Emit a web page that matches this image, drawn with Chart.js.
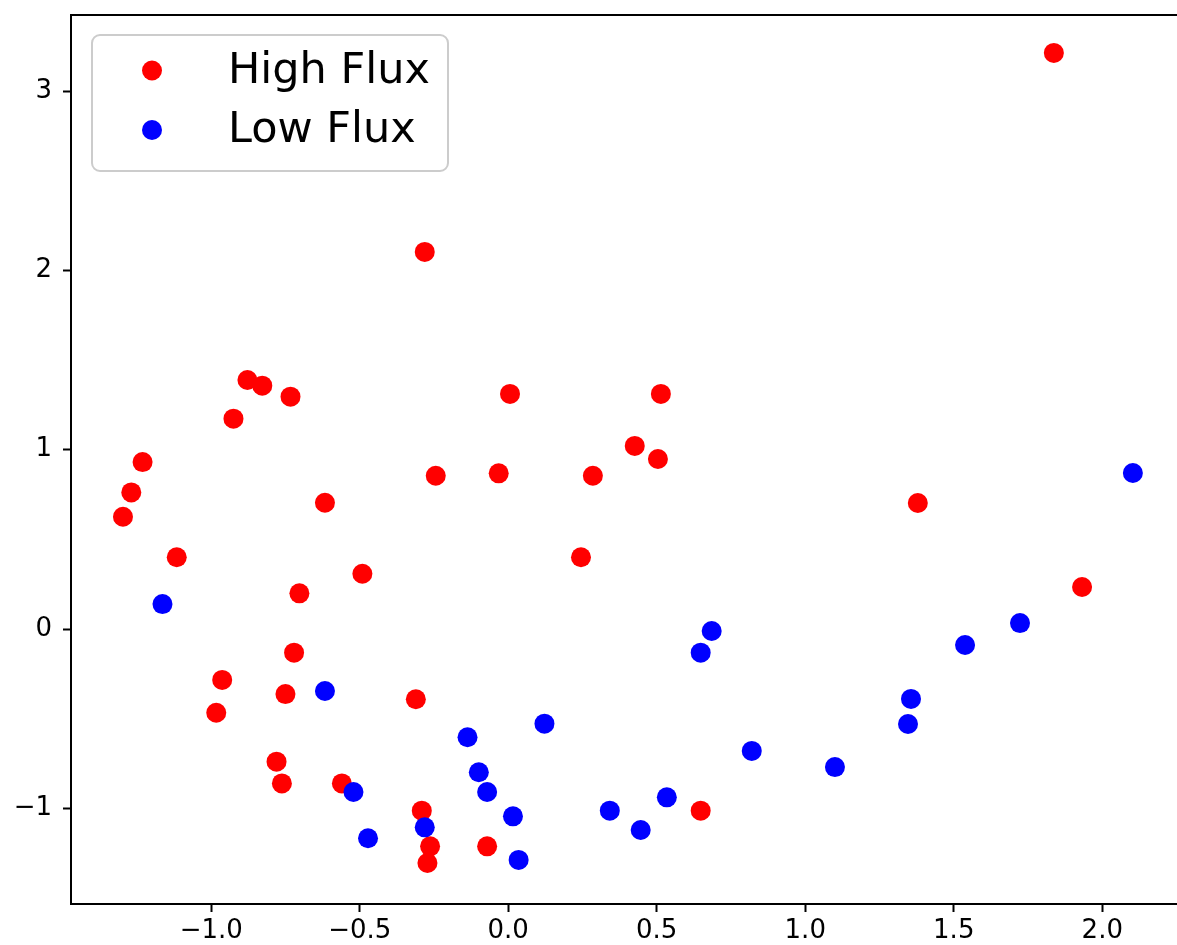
<!DOCTYPE html>
<html>
<head>
<meta charset="utf-8">
<title>High Flux vs Low Flux</title>
<script src="https://cdn.jsdelivr.net/npm/chart.js@4.4.1/dist/chart.umd.min.js"></script>
<style>
  html, body { margin: 0; padding: 0; background: #ffffff; overflow: hidden; }
  #wrap { width: 1177px; height: 945px; }
</style>
</head>
<body>
<div id="wrap"><canvas id="chart" width="1177" height="945"></canvas></div>
<script>
// Series values
const highFluxX = [1.837, -0.281, -0.878, -0.828, -0.733, -0.925, 0.006, 0.514, 0.426, 0.504,
                   -1.231, -1.269, -1.297, -0.244, -0.032, 0.285, -0.617, 1.379, -1.116, 0.245,
                   -0.491, -0.703, 1.932, -0.721, -0.963, -0.750, -0.311, -0.983, -0.780, -0.762,
                   -0.560, -0.291, 0.648, -0.263, -0.071, -0.272];
const highFluxY = [3.213, 2.103, 1.389, 1.357, 1.296, 1.173, 1.311, 1.311, 1.021, 0.948,
                   0.931, 0.762, 0.626, 0.855, 0.868, 0.855, 0.704, 0.703, 0.400, 0.400,
                   0.308, 0.199, 0.234, -0.132, -0.284, -0.363, -0.392, -0.467, -0.740, -0.861,
                   -0.861, -1.013, -1.013, -1.212, -1.212, -1.305];

const lowFluxX = [2.103, -1.164, 0.685, 1.723, 1.538, 0.648, -0.617, 1.356, 0.122, 1.346,
                  -0.137, 0.820, -0.099, 1.100, -0.521, -0.071, 0.534, 0.342, 0.016, -0.281,
                  0.446, -0.472, 0.035];
const lowFluxY = [0.870, 0.139, -0.011, 0.033, -0.089, -0.132, -0.346, -0.390, -0.528, -0.530,
                  -0.604, -0.680, -0.799, -0.770, -0.909, -0.909, -0.939, -1.013, -1.045, -1.106,
                  -1.121, -1.167, -1.288];

// Tick values and labels
const xTickValues = [-1.0, -0.5, 0.0, 0.5, 1.0, 1.5, 2.0];
const xTickLabels = ['\u22121.0', '\u22120.5', '0.0', '0.5', '1.0', '1.5', '2.0'];
const yTickValues = [-1, 0, 1, 2, 3];
const yTickLabels = ['\u22121', '0', '1', '2', '3'];

// Series names
const seriesNames = ['High Flux', 'Low Flux'];

const toPoints = (xs, ys) => xs.map((x, i) => ({ x: x, y: ys[i] }));

const FONT = "'DejaVu Sans', 'Liberation Sans', sans-serif";

// Frame (top spine) and boxed legend in the upper-left corner
const framePlugin = {
  id: 'frame',
  afterDraw(chart) {
    const { ctx, chartArea } = chart;
    ctx.save();
    ctx.strokeStyle = '#000000';
    ctx.lineWidth = 2;
    ctx.beginPath();
    ctx.moveTo(chartArea.left - 1, chartArea.top);
    ctx.lineTo(chartArea.right + 2, chartArea.top);
    ctx.stroke();

    // legend box
    const bx = chartArea.left + 21, by = chartArea.top + 20;
    const bw = 356, bh = 136, r = 8;
    ctx.beginPath();
    ctx.moveTo(bx + r, by);
    ctx.lineTo(bx + bw - r, by);
    ctx.arcTo(bx + bw, by, bx + bw, by + r, r);
    ctx.lineTo(bx + bw, by + bh - r);
    ctx.arcTo(bx + bw, by + bh, bx + bw - r, by + bh, r);
    ctx.lineTo(bx + r, by + bh);
    ctx.arcTo(bx, by + bh, bx, by + bh - r, r);
    ctx.lineTo(bx, by + r);
    ctx.arcTo(bx, by, bx + r, by, r);
    ctx.closePath();
    ctx.fillStyle = 'rgba(255,255,255,0.8)';
    ctx.fill();
    ctx.strokeStyle = '#cccccc';
    ctx.lineWidth = 2;
    ctx.stroke();

    const rowY = [by + 35.5, by + 95];
    chart.data.datasets.forEach((ds, i) => {
      ctx.beginPath();
      ctx.arc(bx + 60, rowY[i], 10, 0, Math.PI * 2);
      ctx.fillStyle = ds.backgroundColor;
      ctx.fill();
      ctx.fillStyle = '#000000';
      ctx.font = '43px ' + FONT;
      ctx.textAlign = 'left';
      ctx.textBaseline = 'middle';
      ctx.fillText(ds.label, bx + 136, rowY[i] + 1);
    });
    ctx.restore();
  }
};

const tickFont = { family: FONT, size: 26 };

new Chart(document.getElementById('chart'), {
  type: 'scatter',
  data: {
    datasets: [
      {
        label: seriesNames[0],
        data: toPoints(highFluxX, highFluxY),
        backgroundColor: '#ff0000',
        borderWidth: 0,
        pointRadius: 10,
        order: 2
      },
      {
        label: seriesNames[1],
        data: toPoints(lowFluxX, lowFluxY),
        backgroundColor: '#0000ff',
        borderWidth: 0,
        pointRadius: 10,
        order: 1
      }
    ]
  },
  options: {
    responsive: false,
    devicePixelRatio: 1,
    animation: false,
    events: [],
    layout: { autoPadding: false, padding: { top: 15, right: 0, bottom: 0, left: 0 } },
    plugins: {
      legend: { display: false },
      tooltip: { enabled: false }
    },
    scales: {
      x: {
        type: 'linear',
        min: -1.472,
        max: 2.2516,
        afterFit(scale) {
          scale.height = 41;
          scale.paddingLeft = 0;
          scale.paddingRight = 0;
        },
        afterBuildTicks(scale) { scale.ticks = xTickValues.map(v => ({ value: v })); },
        border: { display: true, color: '#000000', width: 2 },
        grid: {
          drawOnChartArea: false,
          drawTicks: true,
          tickLength: 8,
          tickWidth: 2,
          tickColor: '#000000'
        },
        ticks: {
          font: tickFont,
          color: '#000000',
          padding: 4,
          maxRotation: 0,
          autoSkip: false,
          callback: (value, index) => xTickLabels[index]
        }
      },
      y: {
        type: 'linear',
        min: -1.5337,
        max: 3.4244,
        afterFit(scale) {
          scale.width = 71;
          scale.paddingTop = 0;
          scale.paddingBottom = 0;
        },
        afterBuildTicks(scale) { scale.ticks = yTickValues.map(v => ({ value: v })); },
        border: { display: true, color: '#000000', width: 2 },
        grid: {
          drawOnChartArea: false,
          drawTicks: true,
          tickLength: 8,
          tickWidth: 2,
          tickColor: '#000000'
        },
        ticks: {
          font: tickFont,
          color: '#000000',
          padding: 11,
          autoSkip: false,
          callback: (value, index) => yTickLabels[index]
        }
      }
    }
  },
  plugins: [framePlugin]
});
</script>
</body>
</html>
